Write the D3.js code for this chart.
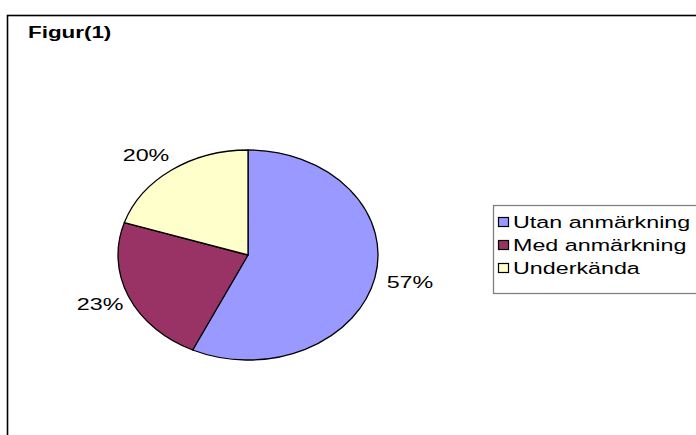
<!DOCTYPE html>
<html>
<head>
<meta charset="utf-8">
<script src="https://cdn.jsdelivr.net/npm/d3@7"></script>
<style>
  body { margin: 0; background: #fff; }
  svg text { font-family: "Liberation Sans", Arial, sans-serif; }
</style>
</head>
<body>
<svg id="chart" width="696" height="435"></svg>
<script>
const categories = ['Utan anmärkning', 'Med anmärkning', 'Underkända'];
const values = [57, 23, 20];
const labels = ['57%', '23%', '20%'];
const colors = ['#9999FF', '#993366', '#FFFFCC'];

const svg = d3.select('#chart');
const stretch = 1.37; // text in the picture is drawn wide

// outer frame (cropped on right and bottom)
svg.append('rect')
  .attr('x', 7.5).attr('y', 15.5)
  .attr('width', 720).attr('height', 440)
  .attr('fill', '#fff')
  .attr('stroke', '#000')
  .attr('stroke-width', 1.6);

svg.append('text')
  .attr('transform', 'translate(28,38) scale(1.4,1)')
  .attr('font-size', 16).attr('font-weight', 'bold')
  .text('Figur(1)');

const cx = 248, cy = 255, rx = 130, ry = 105;
// label anchors sit just outside the ellipse, text grows away from it
const lax = 139, lay = 118, lcx = cx + 3;

const pie = d3.pie().sort(null).value(d => d);
const arcs = pie(values);
const arc = d3.arc().innerRadius(0).outerRadius(rx);
const labelArc = d3.arc().innerRadius(1).outerRadius(1);

const pieG = svg.append('g')
  .attr('transform', `translate(${cx},${cy}) scale(1,${ry / rx})`);

pieG.selectAll('path')
  .data(arcs)
  .enter()
  .append('path')
  .attr('d', arc)
  .attr('fill', (d, i) => colors[i])
  .attr('stroke', '#000')
  .attr('stroke-width', 1.3)
  .attr('stroke-linejoin', 'round')
  .attr('vector-effect', 'non-scaling-stroke');

svg.selectAll('.label')
  .data(arcs)
  .enter()
  .append('text')
  .attr('class', 'label')
  .attr('transform', d => {
    const [px, py] = labelArc.centroid(d);
    return `translate(${lcx + px * lax},${cy + py * lay + py * 5}) scale(${stretch},1)`;
  })
  .attr('dy', '0.35em')
  .attr('text-anchor', d => labelArc.centroid(d)[0] > 0 ? 'start' : 'end')
  .attr('font-size', 17)
  .text((d, i) => labels[i]);

// legend
const legend = svg.append('g').attr('transform', 'translate(493,205)');
legend.append('rect')
  .attr('x', 0.5).attr('y', 0.5)
  .attr('width', 220).attr('height', 88)
  .attr('fill', '#fff')
  .attr('stroke', '#808080')
  .attr('stroke-width', 1.3);

const legendY = d3.scalePoint().domain(categories).range([17, 63]);

const items = legend.selectAll('.item')
  .data(categories)
  .enter()
  .append('g')
  .attr('class', 'item')
  .attr('transform', d => `translate(0,${legendY(d)})`);

items.append('rect')
  .attr('x', 5.5).attr('y', -4.5)
  .attr('width', 10).attr('height', 9)
  .attr('fill', (d, i) => colors[i])
  .attr('stroke', '#000')
  .attr('stroke-width', 1.2);

items.append('text')
  .attr('transform', `translate(20,0) scale(${stretch},1)`)
  .attr('dy', '0.35em')
  .attr('font-size', 17)
  .text(d => d);
</script>
</body>
</html>
